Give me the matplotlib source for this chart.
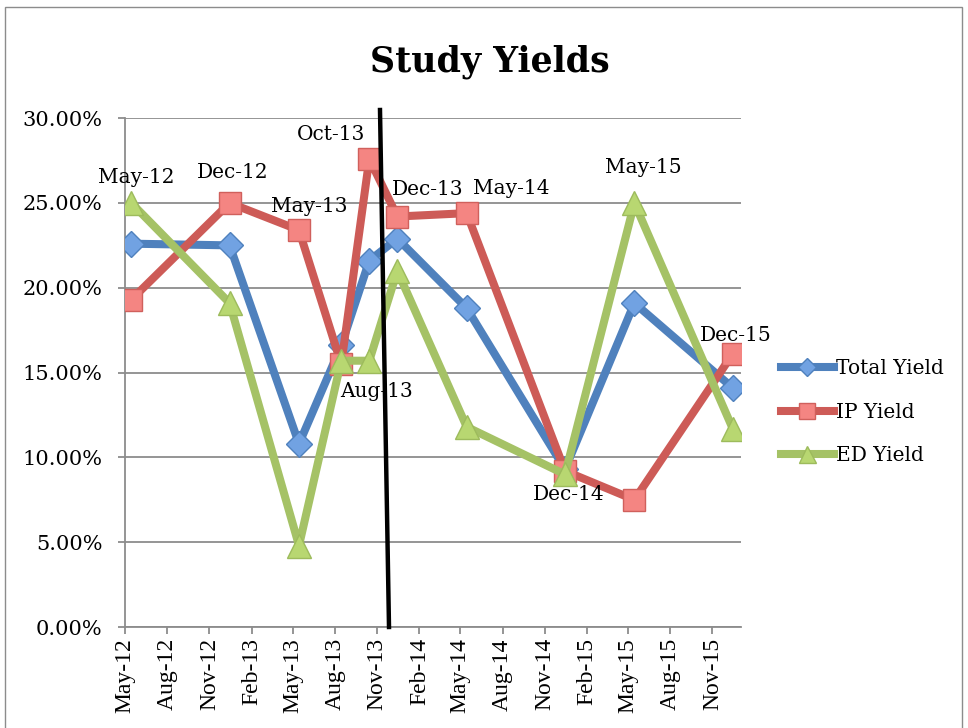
import matplotlib
matplotlib.use("Agg")
import matplotlib.pyplot as plt
import matplotlib.dates as mdates
from matplotlib.ticker import FuncFormatter, MultipleLocator
from matplotlib.lines import Line2D
from matplotlib.patches import Rectangle
import pandas as pd

plt.rcParams['font.family'] = ['DejaVu Serif']

# Data
dates = ["2012-05-15", "2012-12-15", "2013-05-15", "2013-08-15", "2013-10-15",
         "2013-12-15", "2014-05-15", "2014-12-15", "2015-05-15", "2015-12-15"]
total_yield = [22.6, 22.5, 10.8, 16.6, 21.6, 22.9, 18.8, 9.3, 19.1, 14.1]
ip_yield = [19.3, 25.0, 23.4, 15.5, 27.6, 24.2, 24.4, 9.2, 7.5, 16.1]
ed_yield = [25.0, 19.1, 4.8, 15.7, 15.7, 21.0, 11.8, 9.0, 25.0, 11.7]
point_labels = ["May-12", "Dec-12", "May-13", "Aug-13", "Oct-13",
                "Dec-13", "May-14", "Dec-14", "May-15", "Dec-15"]

x = pd.to_datetime(dates)
tot = [v / 100 for v in total_yield]
ip = [v / 100 for v in ip_yield]
ed = [v / 100 for v in ed_yield]

fig = plt.figure(figsize=(9.68, 7.28), dpi=100)
ax = fig.add_axes([0.129, 0.1387, 0.636, 0.699])

ax.plot(x, tot, color='#4F81BD', lw=5.8, marker='D', markersize=13,
        markerfacecolor='#71A2E2', markeredgecolor='#4F81BD', markeredgewidth=1,
        label="Total Yield", zorder=3)
ax.plot(x, ip, color='#CD5B57', lw=5.8, marker='s', markersize=16.5,
        markerfacecolor='#F48582', markeredgecolor='#D0605C', markeredgewidth=1,
        label="IP Yield", zorder=4)
ax.plot(x, ed, color='#A5C266', lw=5.8, marker='^', markersize=17,
        markerfacecolor='#B8D771', markeredgecolor='#9DBB5C', markeredgewidth=1,
        label="ED Yield", zorder=5)

# Data labels, offsets in pixels from the point they belong to
label_spots = {
    "May-12": (ed, 0, (5, 25)),
    "Dec-12": (ip, 1, (3, 30)),
    "May-13": (ip, 2, (10, 24)),
    "Aug-13": (ip, 3, (35, -27)),
    "Oct-13": (ip, 4, (-38, 24)),
    "Dec-13": (ip, 5, (30, 27)),
    "May-14": (ip, 6, (45, 25)),
    "Dec-14": (ed, 7, (4, -20)),
    "May-15": (ed, 8, (9, 35)),
    "Dec-15": (ip, 9, (3, 18)),
}
for name, (series, i, off) in label_spots.items():
    ax.annotate(name, (x[i], series[i]), xytext=(off[0] * 0.72, off[1] * 0.72),
                textcoords='offset points', ha='center', va='center',
                fontsize=14.5, zorder=6)

ax.set_ylim(0, 0.30)
ax.set_xlim(pd.Timestamp("2012-05-01"), pd.Timestamp("2016-01-01"))
ax.yaxis.set_major_locator(MultipleLocator(0.05))
ax.yaxis.set_major_formatter(FuncFormatter(lambda v, p: f"{v*100:.2f}%"))
ax.xaxis.set_major_locator(mdates.MonthLocator(bymonth=[2, 5, 8, 11]))
ax.xaxis.set_major_formatter(mdates.DateFormatter("%b-%y"))

ax.grid(axis='y', color='#8C8C8C', lw=1.3)
ax.set_axisbelow(True)
for s in ['top', 'right']:
    ax.spines[s].set_visible(False)
for s in ['left', 'bottom']:
    ax.spines[s].set_color('#8C8C8C')
    ax.spines[s].set_linewidth(1.3)
ax.tick_params(axis='both', colors='#8C8C8C', length=5, width=1.3, labelcolor='black')
ax.tick_params(axis='y', labelsize=15, pad=11)
ax.tick_params(axis='x', pad=3)
for lab in ax.get_xticklabels():
    lab.set_rotation(90)
    lab.set_family('Liberation Serif')
    lab.set_fontsize(17)

fig.text(0.506, 0.915, "Study Yields", ha='center', va='center',
         fontsize=25, fontweight='bold')

leg = ax.legend(loc='center left', bbox_to_anchor=(1.066, 0.4224), frameon=False,
                fontsize=14.5, handlelength=2.6, labelspacing=1.2, handletextpad=0.1,
                borderpad=0, borderaxespad=0, markerscale=0.72)

# Black divider line drawn on the chart
fig.add_artist(Line2D([380 / 968, 389 / 968], [1 - 110 / 728, 1 - 627 / 728],
                      color='black', lw=3.2, zorder=10))

# Chart border
fig.add_artist(Rectangle((5 / 968, -0.01), 957 / 968, 1 - 7 / 728 + 0.01,
                         transform=fig.transFigure, fill=False,
                         edgecolor='#8C8C8C', lw=1))

fig.savefig("out.png", dpi=100)
